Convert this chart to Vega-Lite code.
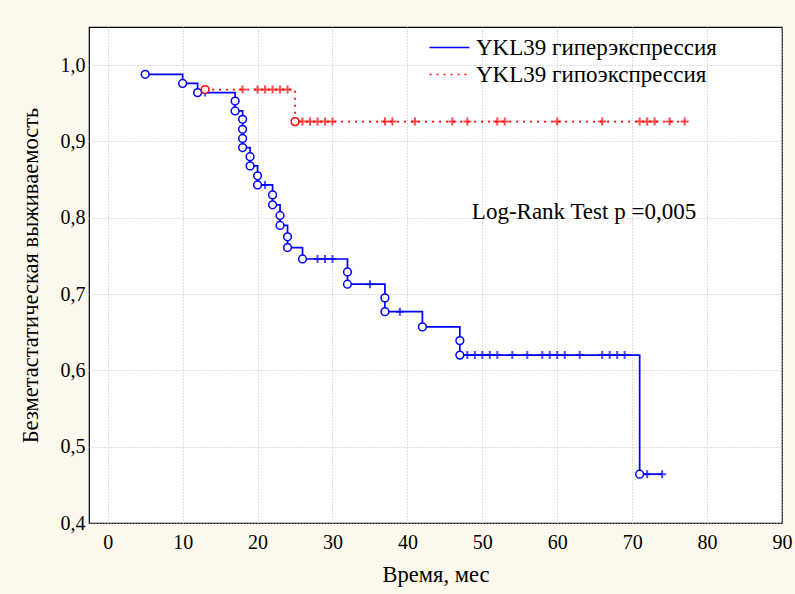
{
  "$schema": "https://vega.github.io/schema/vega-lite/v6.json",
  "width": 693,
  "height": 496,
  "autosize": {"type": "none"},
  "padding": {"left": 89, "top": 27, "right": 13, "bottom": 71},
  "background": "#FDF9EE",
  "config": {
    "view": {"stroke": "#000000", "strokeWidth": 1.2, "fill": "#FFFFFF"},
    "font": "Liberation Serif",
    "text": {"font": "Liberation Serif"},
    "legend": {"labelFont": "Liberation Serif", "titleFont": "Liberation Serif"},
    "axis": {
      "labelFont": "Liberation Serif",
      "titleFont": "Liberation Serif",
      "labelColor": "#000000",
      "titleColor": "#000000",
      "labelFontSize": 20,
      "titleFontSize": 22.5,
      "titleFontWeight": "normal",
      "gridColor": "#BEBEBE",
      "gridDash": [1, 2],
      "gridWidth": 1,
      "domain": false
    }
  },
  "data": {
    "values": [
      {"group": "YKL39 гиперэкспрессия", "kind": "step", "time": 5, "surv": 0.988},
      {"group": "YKL39 гиперэкспрессия", "kind": "step", "time": 10, "surv": 0.976},
      {"group": "YKL39 гиперэкспрессия", "kind": "step", "time": 12, "surv": 0.964},
      {"group": "YKL39 гиперэкспрессия", "kind": "step", "time": 17, "surv": 0.940},
      {"group": "YKL39 гиперэкспрессия", "kind": "step", "time": 18, "surv": 0.892},
      {"group": "YKL39 гиперэкспрессия", "kind": "step", "time": 19, "surv": 0.868},
      {"group": "YKL39 гиперэкспрессия", "kind": "step", "time": 20, "surv": 0.843},
      {"group": "YKL39 гиперэкспрессия", "kind": "step", "time": 22, "surv": 0.817},
      {"group": "YKL39 гиперэкспрессия", "kind": "step", "time": 23, "surv": 0.790},
      {"group": "YKL39 гиперэкспрессия", "kind": "step", "time": 24, "surv": 0.761},
      {"group": "YKL39 гиперэкспрессия", "kind": "step", "time": 26, "surv": 0.746},
      {"group": "YKL39 гиперэкспрессия", "kind": "step", "time": 32, "surv": 0.713},
      {"group": "YKL39 гиперэкспрессия", "kind": "step", "time": 37, "surv": 0.677},
      {"group": "YKL39 гиперэкспрессия", "kind": "step", "time": 42, "surv": 0.657},
      {"group": "YKL39 гиперэкспрессия", "kind": "step", "time": 47, "surv": 0.620},
      {"group": "YKL39 гиперэкспрессия", "kind": "step", "time": 71, "surv": 0.464},
      {"group": "YKL39 гиперэкспрессия", "kind": "step", "time": 74, "surv": 0.464},
      {"group": "YKL39 гипоэкспрессия", "kind": "step", "time": 13, "surv": 0.968},
      {"group": "YKL39 гипоэкспрессия", "kind": "step", "time": 25, "surv": 0.926},
      {"group": "YKL39 гипоэкспрессия", "kind": "step", "time": 77, "surv": 0.926},

      {"group": "YKL39 гиперэкспрессия", "kind": "event", "time": 5, "surv": 0.988},
      {"group": "YKL39 гиперэкспрессия", "kind": "event", "time": 10, "surv": 0.976},
      {"group": "YKL39 гиперэкспрессия", "kind": "event", "time": 12, "surv": 0.964},
      {"group": "YKL39 гиперэкспрессия", "kind": "event", "time": 17, "surv": 0.953},
      {"group": "YKL39 гиперэкспрессия", "kind": "event", "time": 17, "surv": 0.940},
      {"group": "YKL39 гиперэкспрессия", "kind": "event", "time": 18, "surv": 0.929},
      {"group": "YKL39 гиперэкспрессия", "kind": "event", "time": 18, "surv": 0.916},
      {"group": "YKL39 гиперэкспрессия", "kind": "event", "time": 18, "surv": 0.904},
      {"group": "YKL39 гиперэкспрессия", "kind": "event", "time": 18, "surv": 0.892},
      {"group": "YKL39 гиперэкспрессия", "kind": "event", "time": 19, "surv": 0.880},
      {"group": "YKL39 гиперэкспрессия", "kind": "event", "time": 19, "surv": 0.868},
      {"group": "YKL39 гиперэкспрессия", "kind": "event", "time": 20, "surv": 0.855},
      {"group": "YKL39 гиперэкспрессия", "kind": "event", "time": 20, "surv": 0.843},
      {"group": "YKL39 гиперэкспрессия", "kind": "event", "time": 22, "surv": 0.830},
      {"group": "YKL39 гиперэкспрессия", "kind": "event", "time": 22, "surv": 0.817},
      {"group": "YKL39 гиперэкспрессия", "kind": "event", "time": 23, "surv": 0.803},
      {"group": "YKL39 гиперэкспрессия", "kind": "event", "time": 23, "surv": 0.790},
      {"group": "YKL39 гиперэкспрессия", "kind": "event", "time": 24, "surv": 0.775},
      {"group": "YKL39 гиперэкспрессия", "kind": "event", "time": 24, "surv": 0.761},
      {"group": "YKL39 гиперэкспрессия", "kind": "event", "time": 26, "surv": 0.746},
      {"group": "YKL39 гиперэкспрессия", "kind": "event", "time": 32, "surv": 0.729},
      {"group": "YKL39 гиперэкспрессия", "kind": "event", "time": 32, "surv": 0.713},
      {"group": "YKL39 гиперэкспрессия", "kind": "event", "time": 37, "surv": 0.695},
      {"group": "YKL39 гиперэкспрессия", "kind": "event", "time": 37, "surv": 0.677},
      {"group": "YKL39 гиперэкспрессия", "kind": "event", "time": 42, "surv": 0.657},
      {"group": "YKL39 гиперэкспрессия", "kind": "event", "time": 47, "surv": 0.639},
      {"group": "YKL39 гиперэкспрессия", "kind": "event", "time": 47, "surv": 0.620},
      {"group": "YKL39 гиперэкспрессия", "kind": "event", "time": 71, "surv": 0.464},
      {"group": "YKL39 гипоэкспрессия", "kind": "event", "time": 13, "surv": 0.968},
      {"group": "YKL39 гипоэкспрессия", "kind": "event", "time": 25, "surv": 0.926},

      {"group": "YKL39 гиперэкспрессия", "kind": "censor", "time": 13, "surv": 0.964},
      {"group": "YKL39 гиперэкспрессия", "kind": "censor", "time": 21, "surv": 0.843},
      {"group": "YKL39 гиперэкспрессия", "kind": "censor", "time": 28, "surv": 0.746},
      {"group": "YKL39 гиперэкспрессия", "kind": "censor", "time": 29, "surv": 0.746},
      {"group": "YKL39 гиперэкспрессия", "kind": "censor", "time": 30, "surv": 0.746},
      {"group": "YKL39 гиперэкспрессия", "kind": "censor", "time": 35, "surv": 0.713},
      {"group": "YKL39 гиперэкспрессия", "kind": "censor", "time": 39, "surv": 0.677},
      {"group": "YKL39 гиперэкспрессия", "kind": "censor", "time": 48, "surv": 0.620},
      {"group": "YKL39 гиперэкспрессия", "kind": "censor", "time": 49, "surv": 0.620},
      {"group": "YKL39 гиперэкспрессия", "kind": "censor", "time": 50, "surv": 0.620},
      {"group": "YKL39 гиперэкспрессия", "kind": "censor", "time": 51, "surv": 0.620},
      {"group": "YKL39 гиперэкспрессия", "kind": "censor", "time": 52, "surv": 0.620},
      {"group": "YKL39 гиперэкспрессия", "kind": "censor", "time": 54, "surv": 0.620},
      {"group": "YKL39 гиперэкспрессия", "kind": "censor", "time": 56, "surv": 0.620},
      {"group": "YKL39 гиперэкспрессия", "kind": "censor", "time": 58, "surv": 0.620},
      {"group": "YKL39 гиперэкспрессия", "kind": "censor", "time": 59, "surv": 0.620},
      {"group": "YKL39 гиперэкспрессия", "kind": "censor", "time": 60, "surv": 0.620},
      {"group": "YKL39 гиперэкспрессия", "kind": "censor", "time": 61, "surv": 0.620},
      {"group": "YKL39 гиперэкспрессия", "kind": "censor", "time": 63, "surv": 0.620},
      {"group": "YKL39 гиперэкспрессия", "kind": "censor", "time": 66, "surv": 0.620},
      {"group": "YKL39 гиперэкспрессия", "kind": "censor", "time": 67, "surv": 0.620},
      {"group": "YKL39 гиперэкспрессия", "kind": "censor", "time": 68, "surv": 0.620},
      {"group": "YKL39 гиперэкспрессия", "kind": "censor", "time": 69, "surv": 0.620},
      {"group": "YKL39 гиперэкспрессия", "kind": "censor", "time": 72, "surv": 0.464},
      {"group": "YKL39 гиперэкспрессия", "kind": "censor", "time": 74, "surv": 0.464},
      {"group": "YKL39 гипоэкспрессия", "kind": "censor", "time": 18, "surv": 0.968},
      {"group": "YKL39 гипоэкспрессия", "kind": "censor", "time": 20, "surv": 0.968},
      {"group": "YKL39 гипоэкспрессия", "kind": "censor", "time": 21, "surv": 0.968},
      {"group": "YKL39 гипоэкспрессия", "kind": "censor", "time": 22, "surv": 0.968},
      {"group": "YKL39 гипоэкспрессия", "kind": "censor", "time": 23, "surv": 0.968},
      {"group": "YKL39 гипоэкспрессия", "kind": "censor", "time": 24, "surv": 0.968},
      {"group": "YKL39 гипоэкспрессия", "kind": "censor", "time": 26, "surv": 0.926},
      {"group": "YKL39 гипоэкспрессия", "kind": "censor", "time": 27, "surv": 0.926},
      {"group": "YKL39 гипоэкспрессия", "kind": "censor", "time": 28, "surv": 0.926},
      {"group": "YKL39 гипоэкспрессия", "kind": "censor", "time": 29, "surv": 0.926},
      {"group": "YKL39 гипоэкспрессия", "kind": "censor", "time": 30, "surv": 0.926},
      {"group": "YKL39 гипоэкспрессия", "kind": "censor", "time": 37, "surv": 0.926},
      {"group": "YKL39 гипоэкспрессия", "kind": "censor", "time": 38, "surv": 0.926},
      {"group": "YKL39 гипоэкспрессия", "kind": "censor", "time": 41, "surv": 0.926},
      {"group": "YKL39 гипоэкспрессия", "kind": "censor", "time": 46, "surv": 0.926},
      {"group": "YKL39 гипоэкспрессия", "kind": "censor", "time": 48, "surv": 0.926},
      {"group": "YKL39 гипоэкспрессия", "kind": "censor", "time": 52, "surv": 0.926},
      {"group": "YKL39 гипоэкспрессия", "kind": "censor", "time": 53, "surv": 0.926},
      {"group": "YKL39 гипоэкспрессия", "kind": "censor", "time": 60, "surv": 0.926},
      {"group": "YKL39 гипоэкспрессия", "kind": "censor", "time": 66, "surv": 0.926},
      {"group": "YKL39 гипоэкспрессия", "kind": "censor", "time": 71, "surv": 0.926},
      {"group": "YKL39 гипоэкспрессия", "kind": "censor", "time": 72, "surv": 0.926},
      {"group": "YKL39 гипоэкспрессия", "kind": "censor", "time": 73, "surv": 0.926},
      {"group": "YKL39 гипоэкспрессия", "kind": "censor", "time": 75, "surv": 0.926},
      {"group": "YKL39 гипоэкспрессия", "kind": "censor", "time": 77, "surv": 0.926}
    ]
  },
  "encoding": {
    "x": {
      "field": "time",
      "type": "quantitative",
      "scale": {"domain": [-2.5, 90], "nice": false, "zero": false},
      "axis": {
        "title": "Время, мес",
        "values": [0, 10, 20, 30, 40, 50, 60, 70, 80, 90],
        "ticks": false,
        "labelPadding": 9,
        "titlePadding": 11,
        "labelFlush": false
      }
    },
    "y": {
      "field": "surv",
      "type": "quantitative",
      "scale": {"domain": [0.4, 1.05], "nice": false, "zero": false},
      "axis": {
        "title": "Безметастатическая выживаемость",
        "values": [0.4, 0.5, 0.6, 0.7, 0.8, 0.9, 1.0],
        "labelExpr": "replace(format(datum.value, '.1f'), '.', ',')",
        "ticks": false,
        "labelPadding": 4,
        "titlePadding": 18,
        "labelFlush": false
      }
    }
  },
  "layer": [
    {
      "transform": [{"filter": "datum.kind == 'step'"}],
      "mark": {"type": "line", "interpolate": "step-after", "strokeWidth": 1.7},
      "encoding": {
        "color": {
          "field": "group",
          "type": "nominal",
          "scale": {"domain": ["YKL39 гиперэкспрессия", "YKL39 гипоэкспрессия"], "range": ["#0000FF", "#FF0000"]},
          "legend": {
            "title": null,
            "orient": "none",
            "legendX": 349,
            "legendY": 9,
            "symbolType": "M-2,0H2",
            "symbolSize": 400,
            "symbolStrokeWidth": 1.6,
            "labelFont": "Liberation Serif",
            "labelFontSize": 23,
            "labelColor": "#000000",
            "labelLimit": 400,
            "labelOffset": 15,
            "rowPadding": 3
          }
        },
        "strokeDash": {
          "field": "group",
          "type": "nominal",
          "scale": {"domain": ["YKL39 гиперэкспрессия", "YKL39 гипоэкспрессия"], "range": [[1, 0], [2, 5]]},
          "legend": {
            "title": null,
            "orient": "none",
            "legendX": 349,
            "legendY": 9,
            "symbolType": "M-2,0H2",
            "symbolSize": 400,
            "symbolStrokeWidth": 1.6,
            "labelFont": "Liberation Serif",
            "labelFontSize": 23,
            "labelColor": "#000000",
            "labelLimit": 400,
            "labelOffset": 15,
            "rowPadding": 3
          }
        }
      }
    },
    {
      "transform": [{"filter": "datum.kind == 'censor'"}],
      "mark": {"type": "point", "shape": "M-1,0H1M0,-1V1", "size": 64, "strokeWidth": 2, "filled": false},
      "encoding": {
        "stroke": {
          "field": "group",
          "type": "nominal",
          "scale": {"domain": ["YKL39 гиперэкспрессия", "YKL39 гипоэкспрессия"], "range": ["#0000FF", "#FF0000"]},
          "legend": null
        }
      }
    },
    {
      "transform": [{"filter": "datum.kind == 'event'"}],
      "mark": {"type": "point", "shape": "circle", "size": 60, "strokeWidth": 1.5, "filled": true, "fill": "#FFFFFF", "fillOpacity": 1},
      "encoding": {
        "stroke": {
          "field": "group",
          "type": "nominal",
          "scale": {"domain": ["YKL39 гиперэкспрессия", "YKL39 гипоэкспрессия"], "range": ["#0000FF", "#FF0000"]},
          "legend": null
        }
      }
    },
    {
      "transform": [{"filter": "datum.kind == 'event' && datum.time == 5"}],
      "mark": {"type": "text", "font": "Liberation Serif", "fontSize": 23, "align": "left", "baseline": "middle", "color": "#000000"},
      "encoding": {
        "x": {"datum": 48.6},
        "y": {"datum": 0.807},
        "text": {"value": "Log-Rank Test p =0,005"}
      }
    }
  ]
}
